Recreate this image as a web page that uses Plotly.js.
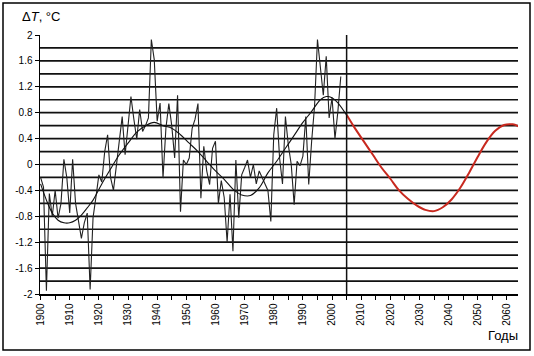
<!DOCTYPE html>
<html>
<head>
<meta charset="utf-8">
<script src="https://cdn.plot.ly/plotly-3.0.1.min.js"></script>
<style>html,body{margin:0;padding:0;background:#fff;}#chart{width:534px;height:356px;}</style>
</head>
<body>
<div id="chart"></div>
<script>
// Observed annual anomalies (°C)
const obsYears = [];
for (let y = 1900; y <= 2003; y++) obsYears.push(y);
const obsValues = [
  -0.2, -0.35, -1.95, -0.45, -0.8, -0.4, -0.83, -0.6, 0.08, -0.2,
  -0.75, 0.08, -0.6, -0.9, -1.14, -0.9, -0.75, -1.93, -0.82, -0.5,
  -0.16, -0.27, 0.2, 0.46, -0.2, -0.4, 0.0, 0.3, 0.74, 0.15,
  0.6, 1.05, 0.7, 0.39, 0.85, 0.51, 0.6, 0.72, 1.93, 1.62,
  0.67, 0.95, -0.21, 0.56, 0.94, 0.6, 0.1, 1.07, -0.73, 0.07,
  0.0, 0.1, 0.56, 0.7, 0.94, -0.52, 0.28, -0.1, -0.31, 0.25,
  0.36, -0.6, -0.25, -0.51, -1.2, -0.46, -1.34, 0.07, -0.82, -0.16,
  -0.05, 0.07, -0.2, 0.0, -0.3, -0.1, -0.2, -0.29, -0.4, -0.88,
  0.46, 0.87, 0.1, -0.3, 0.74, 0.3, 0.0, -0.62, 0.05, -0.02,
  0.13, 0.74, -0.31, 0.36, 0.9, 1.93, 1.44, 1.07, 1.67, 0.72,
  1.03, 0.4, 0.82, 1.36
];
// Smoothed curve
const smoothYears = [1900, 1902, 1904, 1906, 1908, 1910, 1912, 1914, 1916, 1918, 1921, 1924, 1927, 1930, 1933, 1936, 1939, 1942, 1945, 1948, 1951, 1954, 1957, 1960, 1963, 1966, 1969, 1972, 1975, 1978, 1981, 1984, 1987, 1990, 1993, 1996, 1998, 2000, 2002, 2005];
const smoothValues = [-0.3, -0.55, -0.75, -0.86, -0.9, -0.9, -0.86, -0.78, -0.67, -0.55, -0.3, -0.07, 0.15, 0.33, 0.5, 0.6, 0.65, 0.6, 0.56, 0.46, 0.33, 0.2, 0.05, -0.1, -0.23, -0.38, -0.47, -0.48, -0.36, -0.13, 0.05, 0.25, 0.45, 0.65, 0.82, 1.0, 1.05, 1.03, 0.95, 0.76];
// Forecast
const fcYears = [2005, 2008, 2011, 2014, 2017, 2020, 2023, 2026, 2029, 2032, 2035, 2038, 2041, 2044, 2047, 2050, 2053, 2056, 2059, 2062, 2064];
const fcValues = [0.77, 0.55, 0.35, 0.15, -0.05, -0.22, -0.4, -0.53, -0.63, -0.7, -0.72, -0.66, -0.54, -0.36, -0.13, 0.12, 0.35, 0.52, 0.61, 0.62, 0.59];

const xTickVals = [1900, 1910, 1920, 1930, 1940, 1950, 1960, 1970, 1980, 1990, 2000, 2010, 2020, 2030, 2040, 2050, 2060];
const xTickText = xTickVals.map(String);
const yTickVals = [-2, -1.6, -1.2, -0.8, -0.4, 0, 0.4, 0.8, 1.2, 1.6, 2];
const yTickText = ['-2', '-1.6', '-1.2', '-0.8', '-0.4', '0', '0.4', '0.8', '1.2', '1.6', '2'];
const gridLevels = [-1.8, -1.6, -1.4, -1.2, -1.0, -0.8, -0.6, -0.4, -0.2, 0, 0.2, 0.4, 0.6, 0.8, 1.0, 1.2, 1.4, 1.6, 1.8];
const splitYear = 2005;

const shapes = gridLevels.map(v => ({
  type: 'line', xref: 'paper', yref: 'y', x0: 0, x1: 1, y0: v, y1: v,
  line: {color: '#111', width: 1.7}, layer: 'below'
}));
shapes.push({type: 'line', xref: 'x', yref: 'y', x0: splitYear, x1: splitYear, y0: -2, y1: 2,
  line: {color: '#111', width: 1.5}});
shapes.push({type: 'rect', xref: 'paper', yref: 'paper', x0: -0.0774, x1: 1.0251, y0: -0.2162, y1: 1.1236,
  line: {color: '#000', width: 1.5}});

const traces = [
  {x: obsYears, y: obsValues, type: 'scatter', mode: 'lines', line: {color: '#222', width: 1.1}, hoverinfo: 'skip'},
  {x: smoothYears, y: smoothValues, type: 'scatter', mode: 'lines', line: {color: '#111', width: 1.1, shape: 'spline'}, hoverinfo: 'skip'},
  {x: fcYears, y: fcValues, type: 'scatter', mode: 'lines', line: {color: '#c8291f', width: 2, shape: 'spline'}, hoverinfo: 'skip'}
];

const layout = {
  width: 534, height: 356,
  margin: {l: 40, r: 16, t: 35, b: 62},
  paper_bgcolor: '#fff', plot_bgcolor: '#fff',
  showlegend: false,
  font: {family: 'Liberation Sans, Arial, sans-serif', color: '#000', size: 10},
  xaxis: {
    range: [1899.8, 2063.8], showgrid: false, zeroline: false,
    tickvals: xTickVals, ticktext: xTickText, tickangle: -90,
    ticks: 'outside', ticklen: 4, tickwidth: 1, tickcolor: '#000',
    minor: {dtick: 5, tick0: 1900, ticks: 'outside', ticklen: 4, tickwidth: 1, tickcolor: '#000', showgrid: false},
    showline: true, linecolor: '#000', linewidth: 1.5,
    tickfont: {size: 10, color: '#000'}
  },
  yaxis: {
    range: [-2, 2], showgrid: false, zeroline: false,
    tickvals: yTickVals, ticktext: yTickText,
    ticks: 'outside', ticklen: 4, tickwidth: 1, tickcolor: '#000',
    showline: true, linecolor: '#000', linewidth: 1.5,
    tickfont: {size: 10, color: '#000'}
  },
  shapes: shapes,
  annotations: [
    {xref: 'paper', yref: 'paper', x: -0.042, y: 1.07, xanchor: 'left', yanchor: 'middle',
     text: 'Δ<i>T</i>, °C', showarrow: false, font: {size: 13, color: '#000'}},
    {xref: 'paper', yref: 'paper', x: 1.005, y: -0.16, xanchor: 'right', yanchor: 'middle',
     text: 'Годы', showarrow: false, font: {size: 13, color: '#000'}}
  ]
};

Plotly.newPlot('chart', traces, layout, {displayModeBar: false, staticPlot: true});
</script>
</body>
</html>
